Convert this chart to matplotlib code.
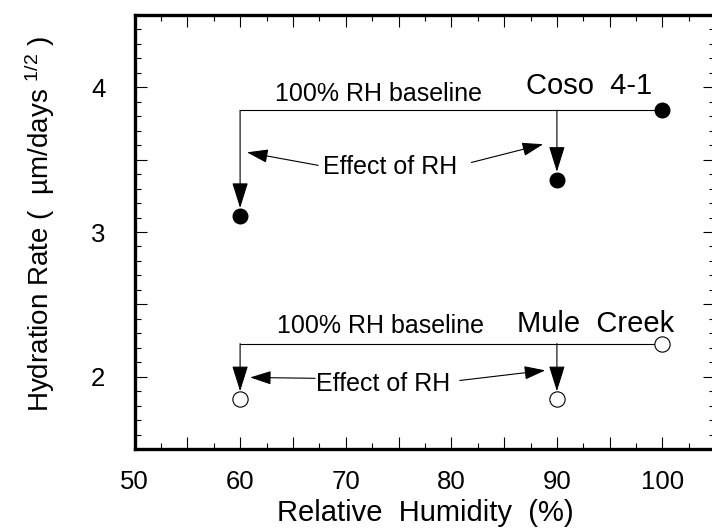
import matplotlib
matplotlib.use("Agg")
import matplotlib.pyplot as plt
from matplotlib.ticker import FixedLocator, MultipleLocator

plt.rcParams['font.family'] = ['Liberation Sans', 'DejaVu Sans']
plt.rcParams['mathtext.default'] = 'regular'

# ---- data ----
rh = [60, 90, 100]
coso = [3.11, 3.36, 3.84]
mule = [1.845, 1.845, 2.23]
xticks_major = [50, 55, 60, 65, 70, 75, 80, 85, 90, 95, 100, 105]
xtick_labels = ['50', '', '60', '', '70', '', '80', '', '90', '', '100', '']
yticks_major = [1.5, 2.0, 2.5, 3.0, 3.5, 4.0, 4.5]
ytick_labels = ['', '2', '', '3', '', '4', '']

W, H = 712, 532
fig = plt.figure(figsize=(W / 100, H / 100), dpi=100)
L, R, T, B = 134.5, 715.3, 14.7, 449.3
ax = fig.add_axes([L / W, 1 - B / H, (R - L) / W, (B - T) / H])
ax.set_xlim(50, 105)
ax.set_ylim(1.5, 4.5)

for s in ax.spines.values():
    s.set_linewidth(2.4)
ax.spines['right'].set_visible(False)

ax.xaxis.set_major_locator(FixedLocator(xticks_major))
ax.set_xticklabels(xtick_labels)
ax.xaxis.set_minor_locator(MultipleLocator(2.5))
ax.yaxis.set_major_locator(FixedLocator(yticks_major))
ax.set_yticklabels(ytick_labels)
ax.yaxis.set_minor_locator(MultipleLocator(0.1))
ax.tick_params(which='both', direction='in', top=True, right=True, width=0.8)
ax.tick_params(which='major', length=8.5, labelsize=18.5)
ax.tick_params(axis='x', which='major', pad=15)
ax.tick_params(axis='y', which='major', pad=21)
ax.tick_params(which='minor', length=4)

lw = 0.8
# baseline lines (at value for 100% RH)
for series in (coso, mule):
    base = series[-1]
    ax.plot([rh[0], rh[-1]], [base, base], color='black', lw=lw, zorder=2)
    for x, y in zip(rh[:2], series[:2]):
        ax.annotate('', xy=(x, y), xytext=(x, base),
                    arrowprops=dict(arrowstyle='-|>,head_length=1.6,head_width=0.5',
                                    mutation_scale=10, lw=lw, color='black',
                                    shrinkA=0, shrinkB=5.8), zorder=3)

ax.plot(rh, coso, 'o', color='black', ms=10.5, zorder=4, linestyle='none')
ax.plot(rh, mule, 'o', mfc='white', mec='black', mew=0.8, ms=11, zorder=4, linestyle='none')

# texts
ax.text(63.3, 3.905, '100% RH baseline', fontsize=18, ha='left', va='baseline')
ax.text(87.1, 3.953, 'Coso  4-1', fontsize=21, ha='left', va='baseline')
ax.text(63.45, 2.30, '100% RH baseline', fontsize=18, ha='left', va='baseline')
ax.text(86.2, 2.31, 'Mule  Creek', fontsize=21, ha='left', va='baseline')
ax.text(67.85, 3.398, 'Effect of RH', fontsize=18, ha='left', va='baseline')
ax.text(67.2, 1.905, 'Effect of RH', fontsize=18, ha='left', va='baseline')

dprops = dict(arrowstyle='-|>,head_length=1.3,head_width=0.42', mutation_scale=10,
              lw=lw, color='black', shrinkA=0, shrinkB=0)
ax.annotate('', xy=(60.65, 3.55), xytext=(67.4, 3.46), arrowprops=dprops)
ax.annotate('', xy=(88.7, 3.606), xytext=(81.9, 3.48), arrowprops=dprops)
ax.annotate('', xy=(60.95, 1.996), xytext=(67.1, 1.99), arrowprops=dprops)
ax.annotate('', xy=(88.9, 2.045), xytext=(80.8, 1.975), arrowprops=dprops)

ax.set_xlabel('Relative  Humidity  (%)', fontsize=21)
ax.xaxis.set_label_coords((425 - L) / (R - L), -(499 - B) / (B - T))
ax.xaxis.label.set_va('top')
fig.text(40 / W, 1 - 224 / H, 'Hydration Rate (  µm/days $^{1/2}$ )', fontsize=20,
         rotation=90, ha='center', va='center')

fig.savefig('out.png', dpi=100)
